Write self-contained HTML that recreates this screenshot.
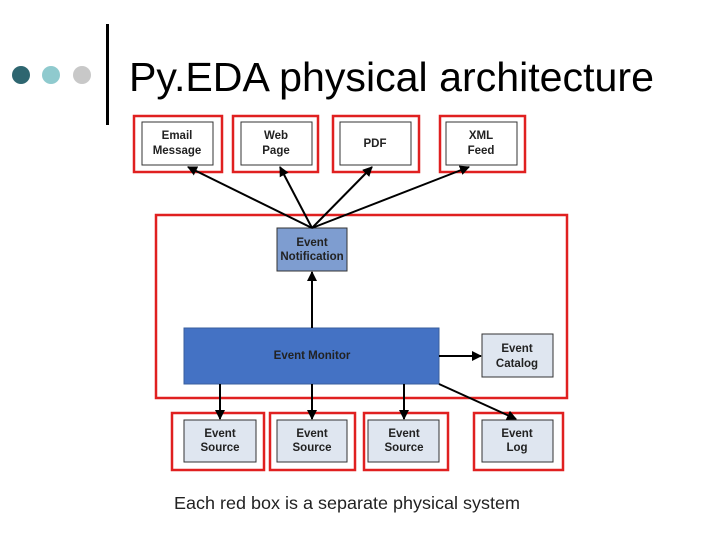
<!DOCTYPE html>
<html><head><style>
body{margin:0;background:#fff;}
svg{display:block;}
text{font-family:"Liberation Sans",sans-serif;}
.s{font-size:11.5px;font-weight:bold;fill:#222;text-anchor:middle;}
</style></head><body>
<svg width="720" height="540" viewBox="0 0 720 540" xmlns="http://www.w3.org/2000/svg">
<defs><marker id="a" viewBox="0 0 10 10" refX="9" refY="5" markerWidth="5" markerHeight="5" orient="auto"><path d="M0,0L10,5L0,10z" fill="#000"/></marker></defs>
<circle cx="21" cy="75" r="9" fill="#2e6670"/>
<circle cx="51" cy="75" r="9" fill="#8fcace"/>
<circle cx="82" cy="75" r="9" fill="#c8c8c8"/>
<rect x="106" y="24" width="3" height="101" fill="#000"/>
<text x="129" y="91" font-size="41" fill="#000" textLength="525" lengthAdjust="spacingAndGlyphs">Py.EDA physical architecture</text>
<g fill="none" stroke="#e02020" stroke-width="2.5">
<rect x="134" y="116" width="88" height="56"/>
<rect x="233" y="116" width="85" height="56"/>
<rect x="333" y="116" width="86" height="56"/>
<rect x="440" y="116" width="85" height="56"/>
<rect x="156" y="215" width="411" height="183"/>
<rect x="172" y="413" width="92" height="57"/>
<rect x="270" y="413" width="85" height="57"/>
<rect x="364" y="413" width="84" height="57"/>
<rect x="474" y="413" width="89" height="57"/>
</g>
<g stroke="#333" stroke-width="1">
<rect x="142" y="122" width="71" height="43" fill="#fff"/>
<rect x="241" y="122" width="71" height="43" fill="#fff"/>
<rect x="340" y="122" width="71" height="43" fill="#fff"/>
<rect x="446" y="122" width="71" height="43" fill="#fff"/>
<rect x="277" y="228" width="70" height="43" fill="#7e9dd0"/>
<rect x="184" y="328" width="255" height="56" fill="#4472c4" stroke="#3a5f9e"/>
<rect x="482" y="334" width="71" height="43" fill="#dfe6f0"/>
<rect x="184" y="420" width="72" height="42" fill="#dfe6f0"/>
<rect x="277" y="420" width="70" height="42" fill="#dfe6f0"/>
<rect x="368" y="420" width="71" height="42" fill="#dfe6f0"/>
<rect x="482" y="420" width="71" height="42" fill="#dfe6f0"/>
</g>
<g stroke="#000" stroke-width="2" marker-end="url(#a)">
<line x1="312" y1="228" x2="188" y2="167"/>
<line x1="312" y1="228" x2="280" y2="167"/>
<line x1="312" y1="228" x2="372" y2="167"/>
<line x1="312" y1="228" x2="469" y2="167"/>
<line x1="312" y1="328" x2="312" y2="272"/>
<line x1="439" y1="356" x2="481" y2="356"/>
<line x1="220" y1="384" x2="220" y2="419"/>
<line x1="312" y1="384" x2="312" y2="419"/>
<line x1="404" y1="384" x2="404" y2="419"/>
<line x1="439" y1="384" x2="516" y2="419"/>
</g>
<text class="s" x="177" y="139">Email</text><text class="s" x="177" y="154">Message</text>
<text class="s" x="276" y="139">Web</text><text class="s" x="276" y="154">Page</text>
<text class="s" x="375" y="147">PDF</text>
<text class="s" x="481" y="139">XML</text><text class="s" x="481" y="154">Feed</text>
<text class="s" x="312" y="246">Event</text><text class="s" x="312" y="260">Notification</text>
<text class="s" x="312" y="359">Event Monitor</text>
<text class="s" x="517" y="352">Event</text><text class="s" x="517" y="367">Catalog</text>
<text class="s" x="220" y="437">Event</text><text class="s" x="220" y="451">Source</text>
<text class="s" x="312" y="437">Event</text><text class="s" x="312" y="451">Source</text>
<text class="s" x="404" y="437">Event</text><text class="s" x="404" y="451">Source</text>
<text class="s" x="517" y="437">Event</text><text class="s" x="517" y="451">Log</text>
<text x="174" y="509" font-size="17.5" fill="#222" textLength="346" lengthAdjust="spacingAndGlyphs">Each red box is a separate physical system</text>
</svg>
</body></html>
